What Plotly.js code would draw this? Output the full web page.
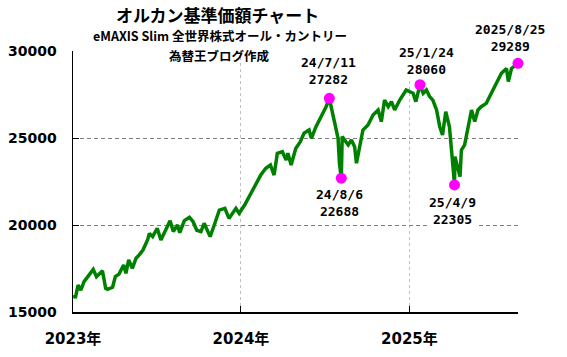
<!DOCTYPE html>
<html>
<head>
<meta charset="utf-8">
<script src="https://cdn.plot.ly/plotly-3.0.1.min.js"></script>
<style>html,body{margin:0;padding:0;background:#fff;}#chart{width:567px;height:357px;}</style>
</head>
<body>
<div id="chart"></div>
<script>
// --- data ---
const dates = [
  "2023-01-04","2023-01-06","2023-01-12","2023-01-18","2023-01-25","2023-02-03","2023-02-14","2023-02-21",
  "2023-03-06","2023-03-13","2023-03-17","2023-03-28","2023-04-03","2023-04-11","2023-04-21","2023-04-26",
  "2023-05-02","2023-05-10","2023-05-18","2023-05-25","2023-06-02","2023-06-12","2023-06-16","2023-06-23",
  "2023-07-03","2023-07-11","2023-07-21","2023-07-31","2023-08-07","2023-08-16","2023-08-21","2023-08-31",
  "2023-09-11","2023-09-19","2023-09-27","2023-10-06","2023-10-13","2023-10-26","2023-11-04","2023-11-15",
  "2023-11-27","2023-12-06","2023-12-21","2023-12-28","2024-01-09","2024-01-19","2024-01-30","2024-02-06",
  "2024-02-13","2024-02-24","2024-03-05","2024-03-13","2024-03-20","2024-03-31","2024-04-08","2024-04-12",
  "2024-04-19","2024-04-29","2024-05-09","2024-05-17","2024-05-28","2024-06-02","2024-06-12","2024-06-23",
  "2024-07-04","2024-07-11","2024-07-16","2024-07-26","2024-07-30","2024-08-02","2024-08-06","2024-08-08",
  "2024-08-13","2024-08-21","2024-08-28","2024-09-04","2024-09-08","2024-09-22","2024-10-03","2024-10-14",
  "2024-10-25","2024-11-01","2024-11-08","2024-11-16","2024-11-23","2024-11-30","2024-12-11","2024-12-18",
  "2024-12-25","2025-01-02","2025-01-09","2025-01-15","2025-01-24","2025-01-31","2025-02-07","2025-02-14",
  "2025-02-21","2025-03-01","2025-03-08","2025-03-14","2025-03-21","2025-03-29","2025-04-04","2025-04-07",
  "2025-04-09","2025-04-10","2025-04-21","2025-04-24","2025-05-01","2025-05-08","2025-05-16","2025-05-23",
  "2025-05-30","2025-06-06","2025-06-17","2025-06-28","2025-07-09","2025-07-20","2025-07-31","2025-08-04",
  "2025-08-11","2025-08-25"
];
const navValues = [
  15980,15790,16550,16260,16740,17070,17450,17030,
  17370,16360,16300,16420,17030,17180,17700,17220,
  17990,17510,18090,18280,18560,19140,19520,19330,
  19810,19140,19710,20250,19620,20000,19560,20250,
  20440,20190,19700,19620,20100,19330,20000,20860,
  20960,20380,20960,20670,21150,21630,22110,22490,
  22870,23260,23450,22870,24120,24210,23730,24120,
  23450,24400,24790,25270,25460,24980,25650,26220,
  26800,27282,26610,25270,24980,23550,22688,25080,
  24890,24600,24890,24500,23550,25460,25750,26320,
  26610,25940,27180,26800,27090,26610,27180,27470,
  27760,27660,27570,27090,28060,27570,27760,27380,
  27180,26610,25650,25170,26510,25650,24120,22970,
  22305,23930,22780,24310,24600,25650,26610,25940,
  26610,26800,26990,27570,28140,28720,29000,28240,
  29000,29289
];
const markDates = ["2024-07-11","2024-08-06","2025-01-24","2025-04-09","2025-08-25"];
const markValues = [27282,22688,28060,22305,29289];
const markLabels = ["24/7/11","24/8/6","25/1/24","25/4/9","2025/8/25"];
const xTickVals = ["2023-01-01","2024-01-01","2025-01-01"];
const xTickText = ["2023年","2024年","2025年"];
const yTickVals = [15000,20000,25000,30000];
const yTickText = ["15000","20000","25000","30000"];
const titleLines = ["オルカン基準価額チャート","eMAXIS Slim 全世界株式オール・カントリー","為替王ブログ作成"];

// --- styling ---
const labelShift = [[-1,27],[-2,-25],[7,24],[-2,-26],[-8,25]];
const annFont = {family:"DejaVu Sans Mono, Noto Sans CJK JP", size:13, color:"#000", weight:"bold"};
const tickFont = {family:"DejaVu Sans, Noto Sans CJK JP", size:14, color:"#000", weight:"bold"};

const annotations = markLabels.map((lab,i)=>({
  x: markDates[i], y: markValues[i], xref:"x", yref:"y",
  text: lab + "<br>" + markValues[i], showarrow:false,
  xshift: labelShift[i][0], yshift: labelShift[i][1],
  font: annFont, bgcolor:"#ffffff", borderpad:0
}));
annotations.push(
  {xref:"paper", yref:"paper", x:0.325, y:(312-15)/261, xanchor:"center", yanchor:"middle",
   text:titleLines[0], showarrow:false,
   font:{family:"Noto Sans CJK JP", size:17, color:"#000", weight:"bold"}},
  {xref:"paper", yref:"paper", x:0.33, y:(312-36)/261, xanchor:"center", yanchor:"middle",
   text:titleLines[1], showarrow:false,
   font:{family:"Noto Sans CJK JP", size:12.5, color:"#000", weight:"bold"}},
  {xref:"paper", yref:"paper", x:0.33, y:(312-55)/261, xanchor:"center", yanchor:"middle",
   text:titleLines[2], showarrow:false,
   font:{family:"Noto Sans CJK JP", size:12.5, color:"#000", weight:"bold"}}
);

const traces = [
  {x: dates, y: navValues, type:"scatter", mode:"lines",
   line:{color:"#008000", width:3.5}, hoverinfo:"skip", showlegend:false},
  {x: markDates, y: markValues, type:"scatter", mode:"markers",
   marker:{color:"#ff00ff", size:11}, cliponaxis:false, showlegend:false}
];

const layout = {
  width:567, height:357,
  margin:{l:73, r:49, t:51, b:45},
  paper_bgcolor:"#ffffff", plot_bgcolor:"#ffffff",
  showlegend:false,
  xaxis:{type:"date", range:["2023-01-01","2025-08-25"],
    tickvals:xTickVals, ticktext:xTickText, tickfont:Object.assign({}, tickFont, {size:15}),
    ticks:"inside", ticklen:6, tickcolor:"#000", tickwidth:1,
    showline:true, linecolor:"#000", linewidth:1.5,
    showgrid:true, gridcolor:"#c0c0c0", griddash:"3px,3px", gridwidth:1,
    zeroline:false, ticklabelstandoff:12},
  yaxis:{range:[15000,30000], tickvals:yTickVals, ticktext:yTickText, tickfont:tickFont,
    ticks:"inside", ticklen:6, tickcolor:"#000", tickwidth:1,
    showline:true, linecolor:"#000", linewidth:1.5,
    showgrid:true, gridcolor:"#808080", griddash:"4px,3px", gridwidth:1,
    zeroline:false, ticklabelstandoff:12},
  annotations: annotations
};

Plotly.newPlot("chart", traces, layout, {staticPlot:true, displayModeBar:false});
</script>
</body>
</html>
